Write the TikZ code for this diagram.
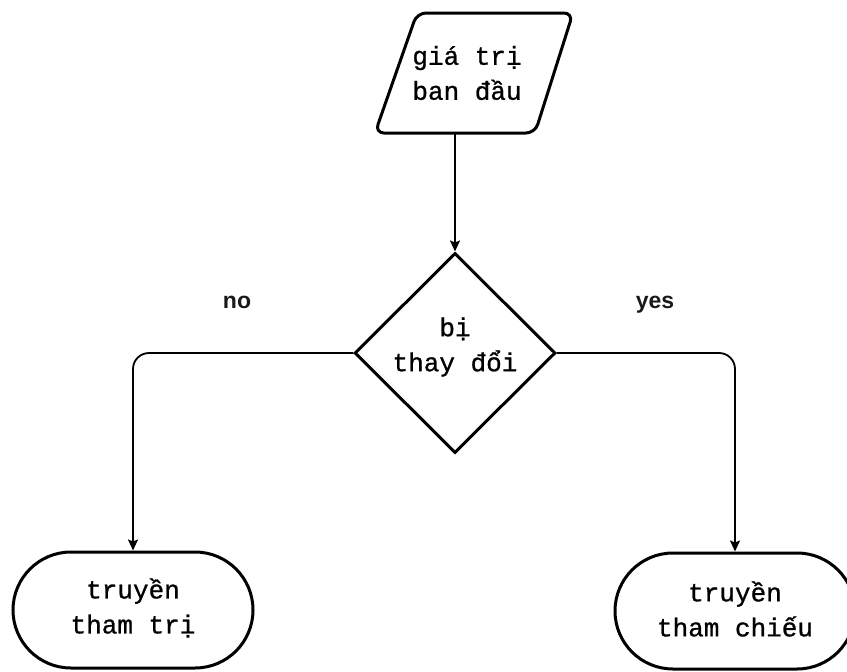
\documentclass[tikz,border=0pt]{standalone}
\usepackage{fontspec}
\setmainfont{Liberation Sans}
\setmonofont{Liberation Mono}[FakeBold=0.9]
\usetikzlibrary{shapes.geometric,shapes.misc,arrows.meta}
\begin{document}
\begin{tikzpicture}[x=1pt,y=-1pt,
  shapeline/.style={draw=black,line width=3pt},
  txt/.style={font=\ttfamily\fontsize{26}{35}\selectfont,align=center,text=black},
  term/.style={rounded rectangle,shapeline,minimum width=240pt,minimum height=116pt,inner sep=0pt},
  conn/.style={draw=black,line width=1.8pt,rounded corners=16pt,-{Stealth[length=11pt,width=10pt,inset=2pt]}},
  lbl/.style={font=\bfseries\fontsize{23}{27}\selectfont,text=black!90,anchor=base}]
\useasboundingbox (0,0) rectangle (847,672);
% parallelogram
\coordinate (p1) at (417,13);
\coordinate (p2) at (573,13);
\coordinate (p3) at (535,133);
\coordinate (p4) at (375,133);
\draw[shapeline,line join=round,rounded corners=9pt] (p1) -- (p2) -- (p3) -- (p4) -- cycle;
\node[txt] (start) at (467,73) {giá trị\\ban đầu};
\coordinate (pbot) at (455,133);
% diamond
\node[diamond,shapeline,minimum width=201pt,minimum height=200pt,inner sep=0pt] (dec) at (455,353) {};
\node[txt] at (455,347) (dectext) {bị\\thay đổi};
% terminals
\node[term] (left) at (133,610) {};
\node[txt] (lefttext) at (133,608) {truyền\\tham trị};
\node[term] (right) at (735,611) {};
\node[txt] (righttext) at (735,609) {truyền\\tham chiếu};
% connectors
\draw[conn] (pbot) -- (dec.north);
\draw[conn] (dec.west) -| (left.north);
\draw[conn] (dec.east) -| (right.north);
% labels
\node[lbl] (no) at (237,308) {no};
\node[lbl] (yes) at (655,308) {yes};
\end{tikzpicture}
\end{document}
